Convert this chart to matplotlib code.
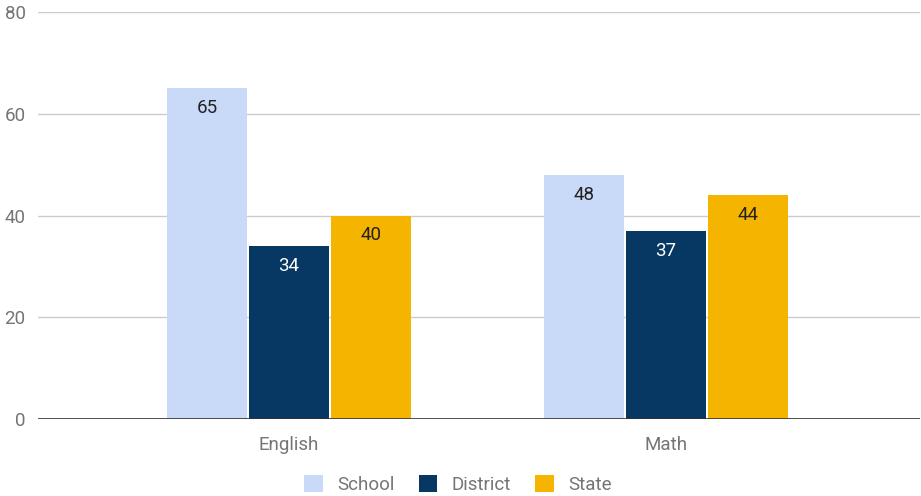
import numpy as np
import matplotlib.pyplot as plt
from matplotlib.patches import Patch

plt.rcParams['font.family'] = ['Roboto', 'DejaVu Sans']

# scores by subject
subjects = ["English", "Math"]
series = ["School", "District", "State"]
school = [65, 48]
district = [34, 37]
state = [40, 44]

colors = ["#c9daf8", "#073763", "#f4b400"]
label_colors = ["#222222", "#ffffff", "#222222"]
fs = 13.5

fig = plt.figure(figsize=(9.21, 4.96), dpi=100)
ax = fig.add_axes([0.0413, 0.1552, 0.9577, 0.8206])

x = np.arange(len(subjects))
bw = 0.212
gap = 0.006
offsets = [-(bw + gap), 0, bw + gap]

for vals, off, c, lc in zip([school, district, state], offsets, colors, label_colors):
    bars = ax.bar(x + off, vals, width=bw, color=c, zorder=3)
    for b, v in zip(bars, vals):
        ax.text(b.get_x() + b.get_width() / 2, v - 3.9, str(v),
                ha='center', va='center', fontsize=fs, color=lc, zorder=4)

ax.set_ylim(0, 80)
ax.set_xlim(-0.666, 1.674)
ax.set_yticks([0, 20, 40, 60, 80])
ax.set_xticks(x)
ax.set_xticklabels(subjects)
ax.grid(axis='y', color='#cccccc', linewidth=1, zorder=0)
ax.axhline(0, color='#333333', linewidth=1.2, zorder=5)
for s in ax.spines.values():
    s.set_visible(False)
ax.tick_params(axis='both', length=0, labelsize=fs, colors='#757575')
ax.tick_params(axis='y', pad=9)
ax.tick_params(axis='x', pad=12)

handles = [Patch(facecolor=c, edgecolor='none') for c in colors]
fig.legend(handles, series, loc='lower center', ncol=3, frameon=False,
           fontsize=fs, labelcolor='#757575', bbox_to_anchor=(0.497, -0.03),
           handlelength=1.0, handleheight=1.0, columnspacing=1.3, handletextpad=0.75)

fig.savefig("out.png", dpi=100)
